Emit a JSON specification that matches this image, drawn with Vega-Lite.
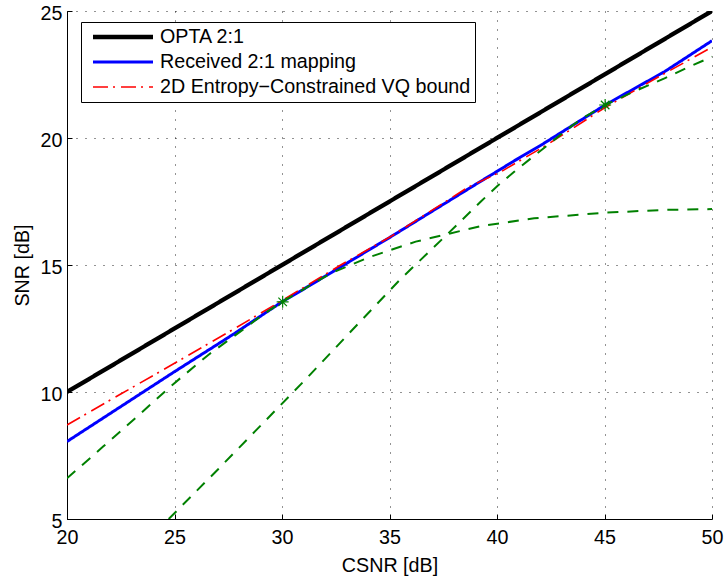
{
  "$schema": "https://vega.github.io/schema/vega-lite/v6.json",
  "autosize": "none",
  "width": 645,
  "height": 508,
  "padding": {"left": 67, "top": 11, "right": 13, "bottom": 57},
  "background": "white",
  "datasets": {
    "curves": [
      {"series": "OPTA 2:1", "csnr": 20, "snr": 10},
      {"series": "OPTA 2:1", "csnr": 50, "snr": 25},
      {"series": "Received 2:1 mapping", "csnr": 20, "snr": 8.05},
      {"series": "Received 2:1 mapping", "csnr": 25, "snr": 10.8},
      {"series": "Received 2:1 mapping", "csnr": 27.73, "snr": 12.27},
      {"series": "Received 2:1 mapping", "csnr": 30, "snr": 13.55},
      {"series": "Received 2:1 mapping", "csnr": 30.87, "snr": 13.98},
      {"series": "Received 2:1 mapping", "csnr": 35.06, "snr": 16.11},
      {"series": "Received 2:1 mapping", "csnr": 39.25, "snr": 18.3},
      {"series": "Received 2:1 mapping", "csnr": 40.03, "snr": 18.7},
      {"series": "Received 2:1 mapping", "csnr": 40.8, "snr": 19.1},
      {"series": "Received 2:1 mapping", "csnr": 42.05, "snr": 19.72},
      {"series": "Received 2:1 mapping", "csnr": 45.03, "snr": 21.3},
      {"series": "Received 2:1 mapping", "csnr": 47.79, "snr": 22.61},
      {"series": "Received 2:1 mapping", "csnr": 50, "snr": 23.83},
      {"series": "2D Entropy−Constrained VQ bound", "csnr": 20, "snr": 8.7},
      {"series": "2D Entropy−Constrained VQ bound", "csnr": 22.5, "snr": 9.92},
      {"series": "2D Entropy−Constrained VQ bound", "csnr": 25, "snr": 11.13},
      {"series": "2D Entropy−Constrained VQ bound", "csnr": 27.5, "snr": 12.35},
      {"series": "2D Entropy−Constrained VQ bound", "csnr": 30, "snr": 13.6},
      {"series": "2D Entropy−Constrained VQ bound", "csnr": 32.73, "snr": 15.0},
      {"series": "2D Entropy−Constrained VQ bound", "csnr": 35.06, "snr": 16.12},
      {"series": "2D Entropy−Constrained VQ bound", "csnr": 38.63, "snr": 18.05},
      {"series": "2D Entropy−Constrained VQ bound", "csnr": 40.18, "snr": 18.67},
      {"series": "2D Entropy−Constrained VQ bound", "csnr": 42.36, "snr": 19.75},
      {"series": "2D Entropy−Constrained VQ bound", "csnr": 45.03, "snr": 21.2},
      {"series": "2D Entropy−Constrained VQ bound", "csnr": 47.5, "snr": 22.4},
      {"series": "2D Entropy−Constrained VQ bound", "csnr": 50, "snr": 23.58}
    ],
    "mappings": [
      {"mapping": "low", "csnr": 20, "snr": 6.6},
      {"mapping": "low", "csnr": 21.68, "snr": 7.85},
      {"mapping": "low", "csnr": 23.31, "snr": 9.07},
      {"mapping": "low", "csnr": 24.9, "snr": 10.28},
      {"mapping": "low", "csnr": 26.57, "snr": 11.46},
      {"mapping": "low", "csnr": 28.27, "snr": 12.51},
      {"mapping": "low", "csnr": 29.2, "snr": 13.1},
      {"mapping": "low", "csnr": 30.03, "snr": 13.56},
      {"mapping": "low", "csnr": 32.26, "snr": 14.67},
      {"mapping": "low", "csnr": 34.13, "snr": 15.33},
      {"mapping": "low", "csnr": 36.22, "snr": 15.92},
      {"mapping": "low", "csnr": 37.7, "snr": 16.22},
      {"mapping": "low", "csnr": 39.25, "snr": 16.53},
      {"mapping": "low", "csnr": 41.73, "snr": 16.84},
      {"mapping": "low", "csnr": 45.03, "snr": 17.06},
      {"mapping": "low", "csnr": 47.79, "snr": 17.17},
      {"mapping": "low", "csnr": 50, "snr": 17.2},
      {"mapping": "high", "csnr": 24.73, "snr": 5},
      {"mapping": "high", "csnr": 27.03, "snr": 6.96},
      {"mapping": "high", "csnr": 31.15, "snr": 10.54},
      {"mapping": "high", "csnr": 33.12, "snr": 12.31},
      {"mapping": "high", "csnr": 35.52, "snr": 14.45},
      {"mapping": "high", "csnr": 37.7, "snr": 16.22},
      {"mapping": "high", "csnr": 39.25, "snr": 17.5},
      {"mapping": "high", "csnr": 40.03, "snr": 18.12},
      {"mapping": "high", "csnr": 40.8, "snr": 18.67},
      {"mapping": "high", "csnr": 41.58, "snr": 19.2},
      {"mapping": "high", "csnr": 42.36, "snr": 19.72},
      {"mapping": "high", "csnr": 43.13, "snr": 20.25},
      {"mapping": "high", "csnr": 43.91, "snr": 20.75},
      {"mapping": "high", "csnr": 45.03, "snr": 21.3},
      {"mapping": "high", "csnr": 46.24, "snr": 21.78},
      {"mapping": "high", "csnr": 47.79, "snr": 22.35},
      {"mapping": "high", "csnr": 48.88, "snr": 22.78},
      {"mapping": "high", "csnr": 50, "snr": 23.2}
    ],
    "operating_points": [
      {"csnr": 30.03, "snr": 13.55},
      {"csnr": 45.03, "snr": 21.3}
    ]
  },
  "config": {
    "view": {"stroke": null},
    "axis": {
      "domainColor": "black",
      "domainWidth": 1,
      "tickColor": "black",
      "tickWidth": 1,
      "tickSize": -5,
      "grid": true,
      "gridColor": "black",
      "gridDash": [1, 8],
      "gridWidth": 1,
      "gridOpacity": 0.85,
      "labelFont": "Liberation Sans",
      "labelFontSize": 19.7,
      "labelColor": "black",
      "labelOverlap": false,
      "labelFlush": false,
      "titleFont": "Liberation Sans",
      "titleFontSize": 19.7,
      "titleFontWeight": "normal",
      "titleColor": "black"
    },
    "legend": {
      "orient": "none",
      "legendX": 14,
      "legendY": 11,
      "symbolType": "stroke",
      "symbolSize": 3600,
      "clipHeight": 22,
      "rowPadding": 3,
      "columnPadding": 0,
      "padding": 4,
      "symbolOffset": 5.5,
      "labelOffset": 4.5,
      "labelFont": "Liberation Sans",
      "labelFontSize": 19.7,
      "labelColor": "black",
      "labelLimit": 0,
      "strokeColor": "black",
      "fillColor": "white",
      "cornerRadius": 0
    }
  },
  "encoding": {
    "x": {
      "field": "csnr",
      "type": "quantitative",
      "scale": {"domain": [20, 50], "nice": false, "zero": false},
      "axis": {
        "values": [20, 25, 30, 35, 40, 45, 50],
        "labelPadding": 29.3,
        "labelBaseline": "alphabetic",
        "title": "CSNR [dB]",
        "titleX": 322.5,
        "titleY": 52.5,
        "titleAlign": "center",
        "titleBaseline": "alphabetic"
      }
    },
    "y": {
      "field": "snr",
      "type": "quantitative",
      "scale": {"domain": [5, 25], "nice": false, "zero": false},
      "axis": {
        "values": [5, 10, 15, 20, 25],
        "labelPadding": 10,
        "labelOffset": 2.5,
        "title": "SNR [dB]",
        "titleAngle": -90,
        "titleX": -38.7,
        "titleY": 254,
        "titleAlign": "center",
        "titleBaseline": "alphabetic"
      }
    }
  },
  "layer": [
    {
      "data": {"name": "curves"},
      "mark": {"type": "line", "clip": true},
      "encoding": {
        "color": {
          "field": "series",
          "type": "nominal",
          "scale": {
            "domain": ["OPTA 2:1", "Received 2:1 mapping", "2D Entropy−Constrained VQ bound"],
            "range": ["#000000", "#0000ff", "#ff0000"]
          },
          "legend": {"title": null}
        },
        "strokeWidth": {
          "field": "series",
          "type": "nominal",
          "scale": {
            "domain": ["OPTA 2:1", "Received 2:1 mapping", "2D Entropy−Constrained VQ bound"],
            "range": [4.3, 1.6, 2]
          },
          "legend": {"title": null}
        },
        "strokeDash": {
          "field": "series",
          "type": "nominal",
          "scale": {
            "domain": ["OPTA 2:1", "Received 2:1 mapping", "2D Entropy−Constrained VQ bound"],
            "range": [[1, 0], [1, 0], [15, 5, 2, 6]]
          },
          "legend": {"title": null}
        },
        "order": {"field": "csnr", "type": "quantitative"}
      }
    },
    {
      "data": {"name": "mappings"},
      "mark": {"type": "line", "clip": true, "color": "#008000", "strokeWidth": 2, "strokeDash": [11, 9]},
      "encoding": {
        "detail": {"field": "mapping", "type": "nominal"},
        "order": {"field": "csnr", "type": "quantitative"}
      }
    },
    {
      "data": {"name": "operating_points"},
      "mark": {
        "type": "point",
        "shape": "M-1,0L1,0M0,-1L0,1M-0.71,-0.71L0.71,0.71M-0.71,0.71L0.71,-0.71",
        "size": 144,
        "filled": false,
        "stroke": "#008000",
        "strokeWidth": 1.2,
        "opacity": 1
      },
      "encoding": {}
    }
  ]
}
